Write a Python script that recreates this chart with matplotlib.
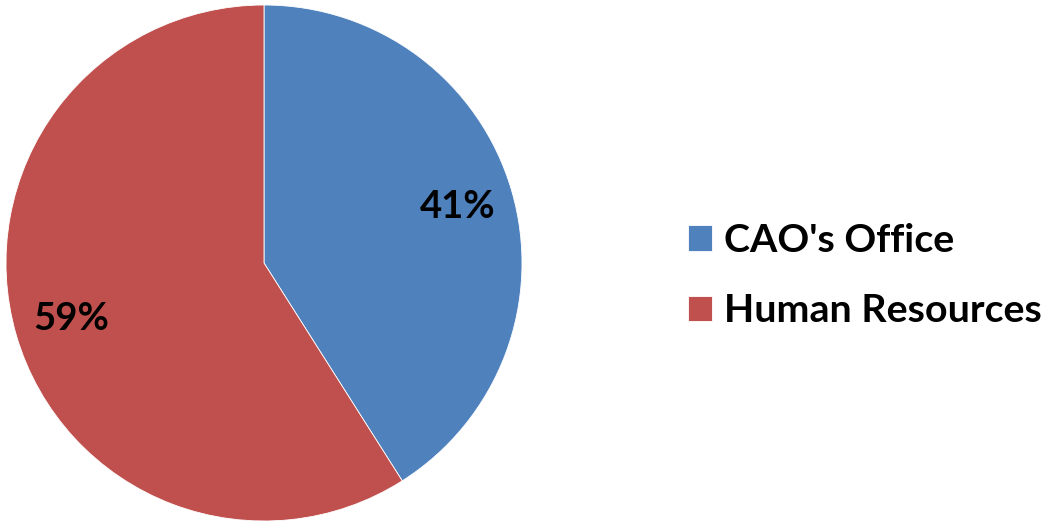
import matplotlib.pyplot as plt

labels = ["CAO's Office", "Human Resources"]
shares = [41, 59]
colors = ["#4F81BD", "#C0504D"]

W, H = 1041, 522
fig = plt.figure(figsize=(W / 100, H / 100), dpi=100)

# pie centre (264, 263) px from top-left, radius ~258 px
cx, cy, r = 264, 263, 258
ax = fig.add_axes([(cx - r) / W, (H - cy - r) / H, 2 * r / W, 2 * r / H])

wedges, texts, autotexts = ax.pie(
    shares,
    colors=colors,
    startangle=90,
    counterclock=False,
    autopct="%1.0f%%",
    pctdistance=0.78,
    wedgeprops={"edgecolor": "white", "linewidth": 0.6},
    textprops={"fontsize": 27.5, "fontweight": "bold", "family": "Lato", "color": "black"},
)
ax.set_xlim(-1, 1)
ax.set_ylim(-1, 1)
ax.set_aspect("equal")

leg = fig.legend(
    wedges,
    labels,
    loc="upper left",
    bbox_to_anchor=(688 / W, 1 - 223 / H),
    frameon=False,
    prop={"family": "Lato", "weight": "bold", "size": 28.4},
    handlelength=0.62,
    handleheight=0.62,
    handletextpad=0.3,
    labelspacing=0.9,
    borderpad=0,
    borderaxespad=0,
)

fig.savefig("out.png", dpi=100)
